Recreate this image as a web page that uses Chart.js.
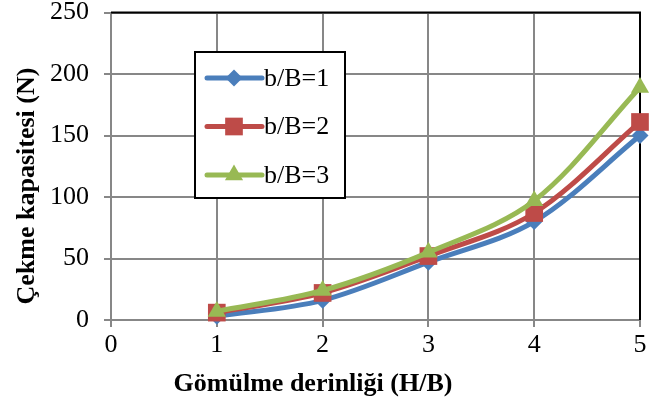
<!DOCTYPE html>
<html>
<head>
<meta charset="utf-8">
<script src="https://cdn.jsdelivr.net/npm/chart.js@4.4.0/dist/chart.umd.min.js"></script>
<style>
  html, body { margin: 0; padding: 0; background: #fff; }
  #chartContainer { width: 671px; height: 408px; }
</style>
</head>
<body>
<div id="chartContainer"><canvas id="chart" width="671" height="408"></canvas></div>
<script>
// values
const depths = [1, 2, 3, 4, 5]
const seriesNames = ['b/B=1', 'b/B=2', 'b/B=3']
const capacity1 = [3, 16, 47, 80, 150]
const capacity2 = [6, 22, 52, 87, 161]
const capacity3 = [7, 24, 55, 97, 189]
const xTicks = [0, 1, 2, 3, 4, 5]
const yTicks = [0, 50, 100, 150, 200, 250]
const xTitle = 'Gömülme derinliği (H/B)'
const yTitle = 'Çekme kapasitesi (N)'

const serif = "'Liberation Serif', 'Times New Roman', serif"

function points(values) {
    return depths.map((d, i) => ({ x: d, y: values[i] }))
}

// legend box inside the plot + axis titles + black top/right frame
const extras = {
    id: 'extras',
    beforeDatasetsDraw(chart) {
        const ctx = chart.ctx
        const a = chart.chartArea
        ctx.save()
        ctx.strokeStyle = '#000'
        ctx.lineWidth = 2
        ctx.beginPath()
        ctx.moveTo(a.left, a.top)
        ctx.lineTo(a.right, a.top)
        ctx.lineTo(a.right, a.bottom)
        ctx.stroke()
        ctx.restore()
    },
    afterDatasetsDraw(chart) {
        const ctx = chart.ctx
        ctx.save()
        ctx.fillStyle = '#fff'
        ctx.strokeStyle = '#000'
        ctx.lineWidth = 2
        ctx.fillRect(195, 52, 150, 146)
        ctx.strokeRect(195, 52, 150, 146)

        chart.data.datasets.forEach((ds, i) => {
            const y = 78 + i * 48.5
            ctx.strokeStyle = ds.borderColor
            ctx.lineWidth = 5
            ctx.lineCap = 'round'
            ctx.beginPath()
            ctx.moveTo(207, y)
            ctx.lineTo(262, y)
            ctx.stroke()
            ctx.fillStyle = ds.backgroundColor
            Chart.helpers.drawPoint(ctx, { pointStyle: ds.pointStyle, radius: ds.pointRadius, borderWidth: 0, rotation: 0 }, 234, y)
            ctx.fillStyle = '#000'
            ctx.font = '26px ' + serif
            ctx.textAlign = 'left'
            ctx.textBaseline = 'middle'
            ctx.fillText(ds.label, 264, y + 1)
        })

        ctx.font = 'bold 26px ' + serif
        ctx.fillStyle = '#000'
        ctx.textAlign = 'center'
        ctx.textBaseline = 'middle'
        ctx.fillText(xTitle, 313, 384)
        ctx.translate(27, 186)
        ctx.rotate(-Math.PI / 2)
        ctx.fillText(yTitle, 0, 0)
        ctx.restore()
    }
}

const ctx = document.getElementById('chart').getContext('2d')

new Chart(ctx, {
    type: 'line',
    data: {
        datasets: [
            { label: seriesNames[0], data: points(capacity1), borderColor: '#4a7ebb', backgroundColor: '#4a7ebb', pointStyle: 'rectRot', pointRadius: 8.5, order: 3 },
            { label: seriesNames[1], data: points(capacity2), borderColor: '#be4b48', backgroundColor: '#be4b48', pointStyle: 'rect', pointRadius: 12.5, order: 2 },
            { label: seriesNames[2], data: points(capacity3), borderColor: '#98b954', backgroundColor: '#98b954', pointStyle: 'triangle', pointRadius: 10.5, order: 1 }
        ].map(ds => Object.assign(ds, { borderWidth: 5, tension: 0.33, pointBorderWidth: 0, pointHoverRadius: ds.pointRadius }))
    },
    options: {
        responsive: false,
        animation: false,
        clip: 20,
        layout: { padding: { top: 11, right: 31, left: 0, bottom: 0 } },
        plugins: { legend: { display: false }, tooltip: { enabled: false } },
        scales: {
            x: {
                type: 'linear',
                min: 0, max: 5,
                afterFit: s => { s.height = 88; s.paddingLeft = 0; s.paddingRight = 0 },
                afterBuildTicks: s => { s.ticks = xTicks.map(v => ({ value: v })) },
                grid: { color: '#878787', lineWidth: 2, tickLength: 7, drawOnChartArea: true },
                border: { color: '#878787', width: 2 },
                ticks: { color: '#000', font: { family: serif, size: 26 }, padding: 3, maxRotation: 0 }
            },
            y: {
                min: 0, max: 250,
                afterFit: s => { s.width = 111; s.paddingTop = 0; s.paddingBottom = 0 },
                afterBuildTicks: s => { s.ticks = yTicks.map(v => ({ value: v })) },
                grid: { color: '#878787', lineWidth: 2, tickLength: 7 },
                border: { color: '#878787', width: 2 },
                ticks: { color: '#000', font: { family: serif, size: 26 }, padding: 15 }
            }
        }
    },
    plugins: [extras]
})
</script>
</body>
</html>
